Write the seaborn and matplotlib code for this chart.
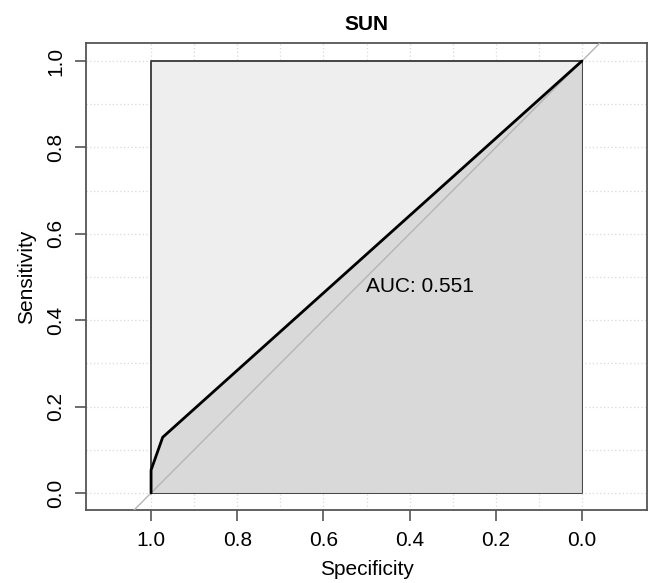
import matplotlib
matplotlib.use("Agg")
import matplotlib.pyplot as plt
import seaborn as sns
import pandas as pd

# ROC curve for SUN (pROC style plot, specificity on reversed x axis)
specificity = [1.0, 1.0, 0.973, 0.0]
sensitivity = [0.0, 0.053, 0.129, 1.0]
auc_value = 0.551
title = "SUN"
tick_values = [0.0, 0.2, 0.4, 0.6, 0.8, 1.0]
tick_labels = ["0.0", "0.2", "0.4", "0.6", "0.8", "1.0"]
grid_values = [i / 10 for i in range(11)]

sns.set_style("white")
plt.rcParams["font.family"] = ["Liberation Sans", "DejaVu Sans"]
plt.rcParams["text.color"] = "black"
plt.rcParams["axes.labelcolor"] = "black"

df = pd.DataFrame({"Specificity": specificity, "Sensitivity": sensitivity})

fig = plt.figure(figsize=(6.48, 5.83), dpi=100)
ax = fig.add_axes([86 / 648, 73 / 583, 561 / 648, 467 / 583])

# dotted grid behind everything
for g in grid_values:
    ax.axvline(g, color="#d8d8d8", lw=0.9, ls=(0, (1, 2)), zorder=0)
    ax.axhline(g, color="#d8d8d8", lw=0.9, ls=(0, (1, 2)), zorder=0)

# max AUC polygon
ax.fill_between([0, 1], 0, 1, facecolor="#eeeeee", edgecolor="#444444", lw=1.4, zorder=1)
# AUC polygon
ax.fill_between(df["Specificity"], df["Sensitivity"], 0, facecolor="#d9d9d9", edgecolor="none", zorder=2)

# identity line
ax.axline((1, 0), (0, 1), color="#b5b5b5", lw=1.0, zorder=3)

sns.lineplot(data=df, x="Specificity", y="Sensitivity", sort=False, estimator=None,
             color="black", lw=2, ax=ax, zorder=4)

ax.text(0.5, 0.5, f"AUC: {auc_value:.3f}", ha="left", va="top", fontsize=15,
        color="black", zorder=5)

ax.set_xlim(1.151, -0.151)
ax.set_ylim(-0.0394, 1.0417)
ax.set_xticks(tick_values)
ax.set_xticklabels(tick_labels)
ax.set_yticks(tick_values)
ax.set_yticklabels(tick_labels, rotation=90, va="center")
ax.tick_params(axis="both", direction="out", length=8, width=1.2, color="#555555",
               labelcolor="black", labelsize=15, pad=7, left=True, bottom=True)
ax.set_xlabel("Specificity", fontsize=15, labelpad=7)
ax.set_ylabel("Sensitivity", fontsize=15, labelpad=7)
ax.set_title(title, fontsize=15, fontweight="bold", pad=9, color="black")

for sp in ax.spines.values():
    sp.set_color("#555555")
    sp.set_linewidth(1.3)

fig.savefig("out.png", dpi=100)
